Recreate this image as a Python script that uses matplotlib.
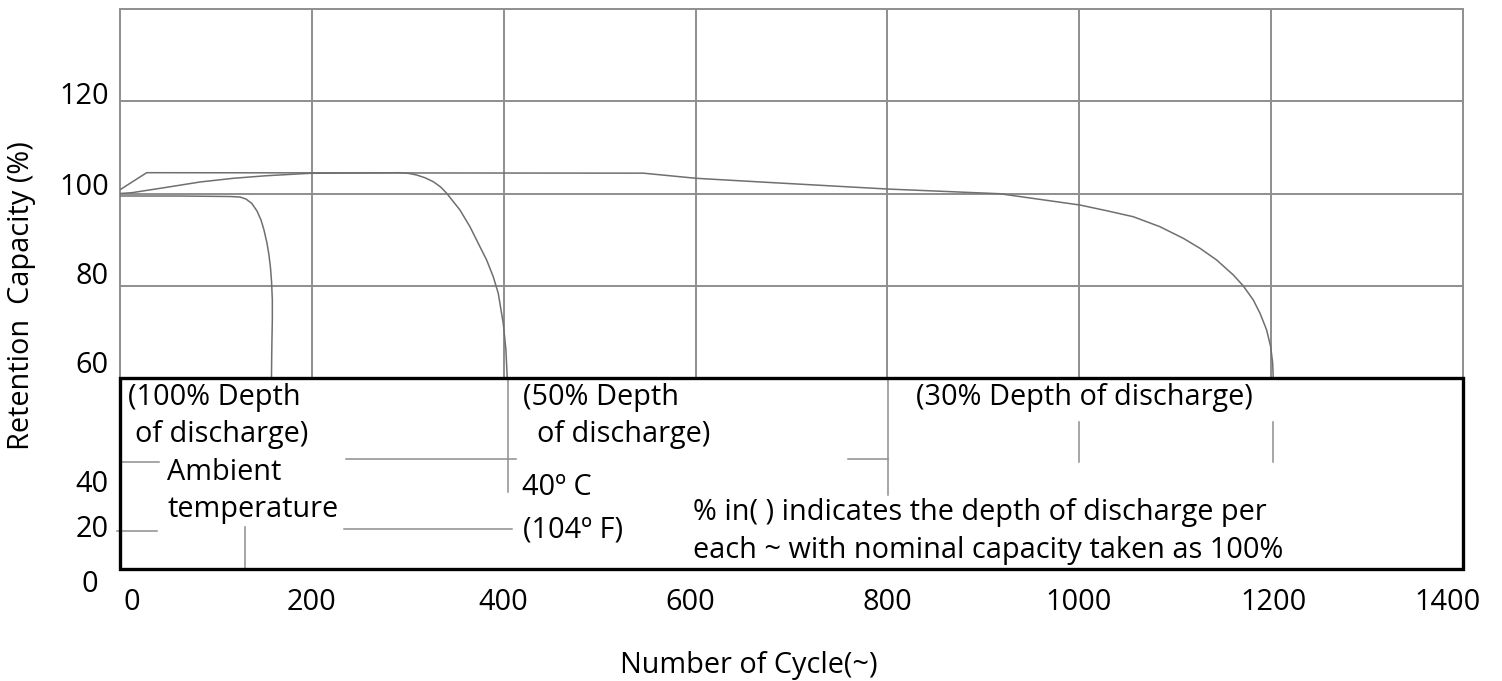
import matplotlib
matplotlib.use("Agg")
import matplotlib.pyplot as plt
from matplotlib.patches import Rectangle

plt.rcParams['font.family'] = ['Open Sans', 'DejaVu Sans']

# ---------------- data ----------------
# 100% depth of discharge
cyc_100 = [0.7, 62.5, 114.7, 125.1, 131.3, 137.3, 142.8, 147.0, 150.1, 153.2, 155.3,
           156.9, 158.0, 158.8, 158.8, 158.4, 158.1, 157.9]
cap_100 = [99.46, 99.46, 99.35, 99.24, 98.81, 97.88, 96.22, 94.27, 92.11, 89.30, 86.70,
           83.89, 80.86, 76.97, 72.65, 68.32, 64.0, 60.0]

# 50% depth of discharge
cyc_50 = [0, 12.2, 48.6, 83.4, 118.1, 152.9, 198.1, 291.9, 301.0, 309.3, 318.0, 326.6,
          334.0, 340.6, 354.4, 364.8, 375.2, 382.2, 389.1, 394.3, 399.5, 402.3, 403.7]
cap_50 = [100.0, 100.17, 101.34, 102.49, 103.29, 103.85, 104.37, 104.5, 104.35, 104.0,
          103.4, 102.55, 101.45, 100.04, 96.43, 92.82, 88.5, 85.62, 82.0, 78.42, 71.94,
          66.16, 60.0]

# 30% depth of discharge
cyc_30 = [0.7, 27.8, 545.5, 600.4, 674.1, 799.9, 917.3, 1000.7, 1028.5, 1056.3, 1084.1,
          1108.4, 1125.8, 1143.2, 1160.6, 1171.0, 1181.4, 1188.4, 1195.3, 1199.5, 1201.6,
          1202.2]
cap_30 = [100.91, 104.5, 104.4, 103.29, 102.42, 100.97, 99.95, 97.51, 96.28, 94.98, 92.82,
          90.31, 88.15, 85.62, 82.38, 80.0, 76.97, 74.1, 70.49, 66.88, 63.29, 60.0]

grid_x = [0, 200, 400, 600, 800, 1000, 1200, 1400]
grid_y = [80, 100, 120]

xtick_labels = ['0', '200', '400', '600', '800', '1000', '1200', '1400']
ytick_labels = ['120', '100', '80', '60', '40', '20', '0']

# ---------------- figure ----------------
W, H = 1502, 681
fig = plt.figure(figsize=(W / 100, H / 100), dpi=100)
ax_l, ax_r, ax_t, ax_b = 120, 1463, 9, 569
ax = fig.add_axes([ax_l / W, (H - ax_b) / H, (ax_r - ax_l) / W, (ax_b - ax_t) / H])
YMIN, YMAX = 18.8, 139.9
ax.set_xlim(0, 1400)
ax.set_ylim(YMIN, YMAX)
for s in ax.spines.values():
    s.set_visible(False)
ax.set_xticks([])
ax.set_yticks([])

GRID = '#8e8e8e'
CURVE = '#6f6f6f'
FS = 20.8

# upper grid
for gx in grid_x:
    ax.plot([gx, gx], [60, YMAX], color=GRID, lw=1.4, solid_capstyle='butt', clip_on=False)
for gy in grid_y + [YMAX]:
    ax.plot([0, 1400], [gy, gy], color=GRID, lw=1.4, clip_on=False)

# curves
for cx, cy in [(cyc_100, cap_100), (cyc_50, cap_50), (cyc_30, cap_30)]:
    ax.plot(cx, cy, color=CURVE, lw=1.1, solid_joinstyle='round')

# lower box
ax.add_patch(Rectangle((0, YMIN), 1400, 60 - YMIN, fill=False, ec='black', lw=2.4,
                       clip_on=False, zorder=5))

# leader lines inside the box
segs = [
    ([0, 40.7], [41.9, 41.9]),
    ([-3, 38.6], [27.0, 27.0]),
    ([130.3, 130.3], [27.8, YMIN]),
    ([235.6, 412.8], [42.5, 42.5]),
    ([233.5, 408.6], [27.4, 27.4]),
    ([404.5, 404.5], [60, 35.5]),
    ([800.6, 800.6], [60, 34.8]),
    ([759.4, 800.6], [42.5, 42.5]),
    ([999.7, 999.7], [50.5, 42.0]),
    ([1202, 1202], [50.5, 42.0]),
]
for xs, ys in segs:
    ax.plot(xs, ys, color=GRID, lw=1.1, clip_on=False)

# box texts
texts = [
    (8.5, 55.9, '(100% Depth'),
    (16.0, 47.9, 'of discharge)'),
    (49, 39.7, 'Ambient'),
    (49, 31.7, 'temperature'),
    (420, 55.9, '(50% Depth'),
    (435, 47.9, 'of discharge)'),
    (419.5, 36.5, '40º C'),
    (420, 27.3, '(104º F)'),
    (830, 55.9, '(30% Depth of discharge)'),
    (597, 31.1, '% in( ) indicates the depth of discharge per'),
    (597, 22.7, 'each ~ with nominal capacity taken as 100%'),
]
for x, y, t in texts:
    ax.text(x, y, t, ha='left', va='center', fontsize=FS, color='black', zorder=6)

# y tick labels (as drawn in the reference)
ylab_pos = [121.0, 101.3, 82.1, 62.9, 37.0, 27.3, 15.4]
for lab, yp in zip(ytick_labels, ylab_pos):
    xr = -11.5 if lab != '0' else -23
    ax.text(xr, yp, lab, ha='right', va='center', fontsize=FS, clip_on=False)

# x tick labels
xlab_pos = [12.5, 200, 399, 594, 800, 999, 1202, 1384]
ylab_x = 60 + (378.5 - 603) / 4.625
for lab, xp in zip(xtick_labels, xlab_pos):
    ax.text(xp, ylab_x, lab, ha='center', va='center', fontsize=FS, clip_on=False)

fig.text(749 / W, 1 - 665 / H, 'Number of Cycle(~)', ha='center', va='center', fontsize=FS)
fig.text(22 / W, 1 - 296 / H, 'Retention  Capacity (%)', ha='center', va='center',
         rotation=90, fontsize=FS)

fig.savefig('out.png', dpi=100)
